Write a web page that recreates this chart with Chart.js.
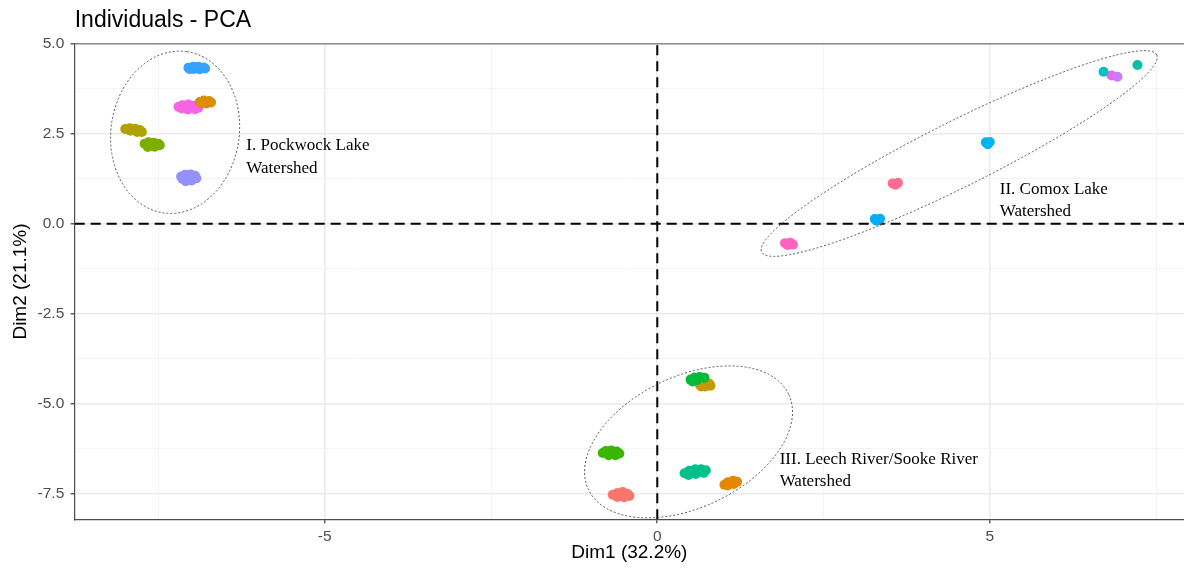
<!DOCTYPE html>
<html>
<head>
<meta charset="utf-8">
<script src="https://cdn.jsdelivr.net/npm/chart.js@4.4.1/dist/chart.umd.min.js"></script>
<style>
  html, body { margin: 0; padding: 0; background: #fff; }
  #wrap { width: 1184px; height: 569px; position: relative; }
</style>
</head>
<body>
<div id="wrap"><canvas id="pca"></canvas></div>
<script>
// axis ranges and ticks (Dim1 / Dim2 units)
const xRange = [-8.76, 7.92];
const yRange = [-8.21, 5.0];
const xMajor = [-5, 0, 5];
const xMinor = [-7.5, -2.5, 2.5, 7.5];
const yMajor = [-7.5, -5, -2.5, 0, 2.5, 5];
const yMinor = [-6.25, -3.75, -1.25, 1.25, 3.75];

// I. Pockwock Lake
const pkBlue = [[-7.05,4.33],[-6.98,4.36],[-6.90,4.36],[-6.82,4.34],[-6.80,4.31],[-6.88,4.29],[-6.97,4.30],[-7.03,4.30],[-6.93,4.33]];
const pkOrange = [[-6.88,3.38],[-6.82,3.42],[-6.74,3.41],[-6.71,3.37],[-6.78,3.34],[-6.86,3.35],[-6.80,3.38]];
const pkPink = [[-7.20,3.25],[-7.14,3.29],[-7.05,3.31],[-6.96,3.28],[-6.90,3.22],[-6.95,3.18],[-7.06,3.17],[-7.15,3.20],[-7.04,3.24]];
const pkOlive = [[-8.00,2.63],[-7.93,2.65],[-7.85,2.64],[-7.78,2.60],[-7.75,2.55],[-7.82,2.55],[-7.92,2.58],[-7.87,2.60]];
const pkGreen = [[-7.71,2.22],[-7.65,2.26],[-7.57,2.25],[-7.50,2.22],[-7.48,2.18],[-7.56,2.14],[-7.66,2.13],[-7.60,2.19]];
const pkLavender = [[-7.16,1.31],[-7.10,1.36],[-7.02,1.37],[-6.95,1.33],[-6.93,1.26],[-7.00,1.20],[-7.09,1.18],[-7.14,1.24],[-7.05,1.28]];

// II. Comox Lake
const cxSeaGreen = [[7.22,4.41]];
const cxTeal = [[6.71,4.22]];
const cxPurple = [[6.92,4.08]];
const cxMagenta = [[6.83,4.12]];
const cxSky = [[4.94,2.26],[5.00,2.27],[4.97,2.21]];
const cxRose = [[3.54,1.12],[3.62,1.14],[3.58,1.08]];
const cxAzure = [[3.27,0.13],[3.35,0.14],[3.30,0.08]];
const cxHotPink = [[1.92,-0.54],[2.00,-0.53],[2.04,-0.58],[1.96,-0.59]];

// III. Leech River / Sooke River
const lcGreen = [[0.50,-4.33],[0.56,-4.27],[0.64,-4.26],[0.71,-4.28],[0.60,-4.34],[0.53,-4.38]];
const lcGold = [[0.64,-4.47],[0.70,-4.43],[0.78,-4.44],[0.80,-4.50],[0.72,-4.52],[0.66,-4.52]];
const lcLime = [[-0.82,-6.37],[-0.77,-6.31],[-0.69,-6.30],[-0.61,-6.33],[-0.57,-6.38],[-0.63,-6.43],[-0.73,-6.43],[-0.70,-6.37]];
const lcSalmon = [[-0.67,-7.53],[-0.60,-7.48],[-0.52,-7.45],[-0.45,-7.50],[-0.42,-7.56],[-0.50,-7.60],[-0.60,-7.59],[-0.55,-7.53]];
const lcJade = [[0.41,-6.93],[0.48,-6.86],[0.57,-6.82],[0.66,-6.82],[0.73,-6.85],[0.70,-6.92],[0.58,-6.95],[0.47,-6.98],[0.58,-6.88]];
const lcOrange = [[1.01,-7.25],[1.06,-7.18],[1.14,-7.14],[1.20,-7.17],[1.15,-7.23],[1.06,-7.27]];

// first entry ends up on top
const clusters = [pkBlue, pkOrange, pkPink, pkOlive, pkGreen, pkLavender,
  cxSeaGreen, cxTeal, cxPurple, cxMagenta, cxSky, cxRose, cxAzure, cxHotPink,
  lcGreen, lcGold, lcLime, lcSalmon, lcJade, lcOrange];
const clusterColors = ["#35A2FF", "#DB8E00", "#F564E3", "#AEA200", "#7CAE00", "#9590FF",
  "#00C1A3", "#00BFC4", "#C77CFF", "#EF67EB", "#00B4F0", "#FF6C91", "#00ACFC", "#FF62BC",
  "#00BA38", "#C49A00", "#39B600", "#F8766D", "#00C08B", "#E58700"];

// concentration ellipses: centre and two conjugate semi-diameters, data units
const ellipseCentres = [[-7.25, 2.54], [4.54, 1.95], [0.47, -6.06]];
const ellipseU = [[0.173, 2.24], [2.97, 2.74], [1.505, 1.326]];
const ellipseV = [[-0.955, 0.25], [-0.22, 0.81], [-0.424, 1.642]];

const groupLabels = [
  ["I. Pockwock Lake", "Watershed"],
  ["II. Comox Lake", "Watershed"],
  ["III. Leech River/Sooke River", "Watershed"]
];
const groupLabelAnchors = [[-6.18, 2.16], [5.15, 0.96], [1.84, -6.54]];

const SANS = "'Liberation Sans', Arial, sans-serif";
const SERIF = "'Liberation Serif', 'Times New Roman', serif";

const datasets = clusters.map((pts, i) => ({
  type: "scatter",
  data: pts.map(([x, y]) => ({ x, y })),
  backgroundColor: clusterColors[i],
  borderWidth: 0,
  pointRadius: 5,
  pointHoverRadius: 5
}));

// dashed reference lines through the origin
datasets.push({
  type: "line",
  data: [{ x: xRange[0], y: 0 }, { x: xRange[1], y: 0 }],
  borderColor: "#000",
  borderWidth: 2,
  borderDash: [10, 6],
  pointRadius: 0,
  fill: false
});
datasets.push({
  type: "line",
  data: [{ x: 0, y: yRange[0] }, { x: 0, y: yRange[1] }],
  borderColor: "#000",
  borderWidth: 2,
  borderDash: [10, 6],
  pointRadius: 0,
  fill: false
});

const decorPlugin = {
  id: "decor",
  afterDatasetsDraw(chart) {
    const { ctx, scales: { x, y } } = chart;
    const sx = x.getPixelForValue(1) - x.getPixelForValue(0);
    const sy = y.getPixelForValue(0) - y.getPixelForValue(1);

    ellipseCentres.forEach((c, i) => {
      const u = ellipseU[i];
      const v = ellipseV[i];
      ctx.save();
      ctx.beginPath();
      ctx.translate(x.getPixelForValue(c[0]), y.getPixelForValue(c[1]));
      ctx.transform(u[0] * sx, -u[1] * sy, v[0] * sx, -v[1] * sy, 0, 0);
      ctx.arc(0, 0, 1, 0, Math.PI * 2);
      ctx.setTransform(1, 0, 0, 1, 0, 0);
      ctx.strokeStyle = "#444";
      ctx.lineWidth = 0.9;
      ctx.setLineDash([2, 2]);
      ctx.stroke();
      ctx.restore();
    });

    ctx.save();
    ctx.fillStyle = "#000";
    ctx.font = "17px " + SERIF;
    ctx.textAlign = "left";
    ctx.textBaseline = "middle";
    groupLabels.forEach((lines, i) => {
      const px = x.getPixelForValue(groupLabelAnchors[i][0]);
      const py = y.getPixelForValue(groupLabelAnchors[i][1]);
      lines.forEach((t, k) => ctx.fillText(t, px, py + k * 22.5));
    });
    ctx.restore();
  },
  afterDraw(chart) {
    const { ctx, chartArea } = chart;
    ctx.save();
    // top panel border
    ctx.strokeStyle = "#8C8C8C";
    ctx.lineWidth = 1.5;
    ctx.beginPath();
    ctx.moveTo(chartArea.left, chartArea.top);
    ctx.lineTo(chartArea.right, chartArea.top);
    ctx.stroke();
    // title
    ctx.fillStyle = "#000";
    ctx.font = "23px " + SANS;
    ctx.textAlign = "left";
    ctx.textBaseline = "alphabetic";
    ctx.fillText("Individuals - PCA", chartArea.left, 27.3);
    ctx.restore();
  }
};

function gridColor(majors) {
  return (c) => majors.includes(c.tick.value) ? "#EBEBEB" : "#F3F3F3";
}
function gridWidth(majors) {
  return (c) => majors.includes(c.tick.value) ? 1.6 : 0.9;
}
function tickColor(majors) {
  return (c) => majors.includes(c.tick.value) ? "#333" : "rgba(0,0,0,0)";
}

new Chart(document.getElementById("pca"), {
  type: "scatter",
  data: { datasets },
  plugins: [decorPlugin],
  options: {
    responsive: true,
    maintainAspectRatio: false,
    animation: false,
    layout: { autoPadding: false, padding: { top: 43.7, right: 0, bottom: 0, left: 0 } },
    plugins: {
      legend: { display: false },
      tooltip: { enabled: false },
      title: { display: false }
    },
    scales: {
      x: {
        type: "linear",
        min: xRange[0],
        max: xRange[1],
        afterBuildTicks: (s) => { s.ticks = xMinor.concat(xMajor).sort((a, b) => a - b).map((v) => ({ value: v })); },
        afterFit: (s) => { s.height = 49.7; s.paddingLeft = 0; s.paddingRight = 0; },
        ticks: {
          autoSkip: false,
          maxRotation: 0,
          padding: 4.5,
          color: "#4D4D4D",
          font: { family: SANS, size: 15.5 },
          callback: (v) => xMajor.includes(v) ? String(v) : ""
        },
        grid: {
          color: gridColor(xMajor),
          lineWidth: gridWidth(xMajor),
          tickColor: tickColor(xMajor),
          tickLength: 4,
          tickWidth: 1.2
        },
        border: { display: true, color: "#4D4D4D", width: 1.2 },
        title: {
          display: true,
          text: "Dim1 (32.2%)",
          color: "#000",
          font: { family: SANS, size: 19 },
          padding: { top: 0, bottom: 5 }
        }
      },
      y: {
        type: "linear",
        min: yRange[0],
        max: yRange[1],
        afterBuildTicks: (s) => { s.ticks = yMinor.concat(yMajor).sort((a, b) => a - b).map((v) => ({ value: v })); },
        afterFit: (s) => { s.width = 74.7; s.paddingTop = 0; s.paddingBottom = 0; },
        ticks: {
          autoSkip: false,
          padding: 6.4,
          color: "#4D4D4D",
          font: { family: SANS, size: 15.5 },
          callback: (v) => yMajor.includes(v) ? v.toFixed(1) : ""
        },
        grid: {
          color: gridColor(yMajor),
          lineWidth: gridWidth(yMajor),
          tickColor: tickColor(yMajor),
          tickLength: 4,
          tickWidth: 1.2
        },
        border: { display: true, color: "#4D4D4D", width: 1.2 },
        title: {
          display: true,
          text: "Dim2 (21.1%)",
          color: "#000",
          font: { family: SANS, size: 19 },
          padding: { top: 9.5, bottom: 0 }
        }
      }
    }
  }
});
</script>
</body>
</html>
